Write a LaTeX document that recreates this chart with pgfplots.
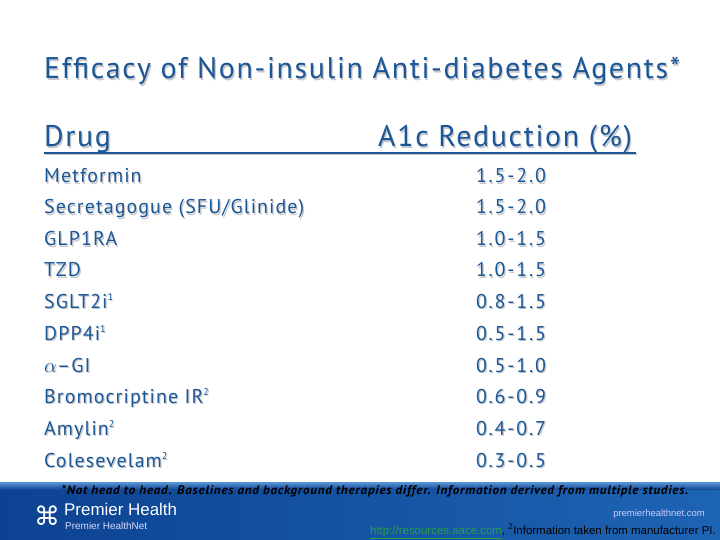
\documentclass[border=0pt]{standalone}
\usepackage{pgfplots}
\pgfplotsset{compat=1.18}
\usepackage{pgfplotstable}
\usepackage{fontspec}
\setmainfont{PT Sans}[LetterSpace=5.5]
\newfontfamily\rangefont{PT Sans}[LetterSpace=9]
\newfontfamily\footfont{PT Sans}[LetterSpace=6]
\newfontfamily\dejavu{DejaVu Sans}
\newfontfamily\smallsans{Liberation Sans}
\definecolor{slideblue}{RGB}{27,87,150}
\definecolor{shadowgray}{RGB}{200,200,205}
\definecolor{bandlight}{RGB}{90,150,215}
\definecolor{banddark}{RGB}{12,66,145}
\definecolor{bandright}{RGB}{30,100,180}
\definecolor{linkgreen}{RGB}{40,160,70}
\newcommand{\sups}[1]{\raisebox{0.75ex}{\fontsize{10}{10}\selectfont #1}}

\pgfplotstableread[col sep=comma]{
row,drug,range
183,Metformin,1.5-2.0
214,Secretagogue (SFU/Glinide),1.5-2.0
246,GLP1RA,1.0-1.5
277,TZD,1.0-1.5
308,SGLT2i\sups{1},0.8-1.5
340,DPP4i\sups{1},0.5-1.5
372,$\alpha$--GI,0.5-1.0
403,Bromocriptine IR\sups{2},0.6-0.9
435,Amylin\sups{2},0.4-0.7
467,Colesevelam\sups{2},0.3-0.5
}\drugs

\newcommand{\shtext}[5]{%
  \node[anchor=#3, inner sep=0pt, text=shadowgray, font=#4] at ([xshift=1.2bp,yshift=-1.2bp]axis cs:#1,#2) {#5};
  \node[anchor=#3, inner sep=0pt, text=slideblue, font=#4] at (axis cs:#1,#2) {#5};}

\begin{document}
\begin{tikzpicture}
\begin{axis}[width=720bp,height=540bp,scale only axis,
  xmin=0,xmax=720,ymin=0,ymax=540,y dir=reverse,
  hide axis,clip=false]
\fill[white] (axis cs:0,0) rectangle (axis cs:720,540);
% bottom band
\shade[top color=bandlight, bottom color=banddark] (axis cs:0,482) rectangle (axis cs:720,490);
\shade[left color=banddark, right color=bandright] (axis cs:0,490) rectangle (axis cs:720,540);

% title and header
\shtext{44}{79}{base west}{\fontsize{30}{34}\selectfont}{Efficacy of Non-insulin Anti-diabetes Agents*}
\shtext{44}{147}{base west}{\fontsize{30}{34}\selectfont}{Drug}
\shtext{378}{147}{base west}{\fontsize{30}{34}\selectfont}{A1c Reduction (\%)}
\draw[shadowgray, line width=2bp] ([xshift=1.2bp,yshift=-1.2bp]axis cs:44,153) -- ([xshift=1.2bp,yshift=-1.2bp]axis cs:636,153);
\draw[slideblue, line width=2bp] (axis cs:44,153) -- (axis cs:636,153);

% rows: shadow then text
\addplot[draw=none, mark=none, nodes near coords, point meta=explicit symbolic,
  every node near coord/.append style={anchor=base west, inner sep=0pt, xshift=1.2bp, yshift=-1.2bp,
    font=\fontsize{20}{24}\selectfont, text=shadowgray}]
  table[x expr=44, y=row, meta=drug]{\drugs};
\addplot[draw=none, mark=none, nodes near coords, point meta=explicit symbolic,
  every node near coord/.append style={anchor=base west, inner sep=0pt,
    font=\fontsize{20}{24}\selectfont, text=slideblue}]
  table[x expr=44, y=row, meta=drug]{\drugs};
\addplot[draw=none, mark=none, nodes near coords, point meta=explicit symbolic,
  every node near coord/.append style={anchor=base, inner sep=0pt, xshift=1.2bp, yshift=-1.2bp,
    font=\rangefont\fontsize{20}{24}\selectfont, text=shadowgray}]
  table[x expr=511, y=row, meta=range]{\drugs};
\addplot[draw=none, mark=none, nodes near coords, point meta=explicit symbolic,
  every node near coord/.append style={anchor=base, inner sep=0pt,
    font=\rangefont\fontsize{20}{24}\selectfont, text=slideblue}]
  table[x expr=511, y=row, meta=range]{\drugs};

% footer
\node[anchor=base, inner sep=0pt, text=black, font=\footfont\fontsize{12.5}{14}\selectfont\bfseries\itshape]
  at (axis cs:375,494) {\scalebox{1.045}[1]{*Not head to head. Baselines and background therapies differ. Information derived from multiple studies.}};
\node[anchor=base west, inner sep=0pt, text=white, font=\dejavu\fontsize{26}{26}\selectfont] at (axis cs:34,525) {⌘};
\node[anchor=base west, inner sep=0pt, text=white, font=\smallsans\fontsize{17}{19}\selectfont] at (axis cs:64,515) {Premier Health};
\node[anchor=base west, inner sep=0pt, text=white!85!blue, font=\smallsans\fontsize{10}{11}\selectfont] at (axis cs:65,529) {Premier HealthNet};
\node[anchor=base east, inner sep=0pt, text=white!80!blue, font=\smallsans\fontsize{9.5}{11}\selectfont] at (axis cs:705,516) {premierhealthnet.com};
\node[anchor=base east, inner sep=0pt, text=black, font=\smallsans\fontsize{11.5}{12}\selectfont] at (axis cs:716,534)
  {{\color{linkgreen}\underline{http://resources.aace.com}}, \textsuperscript{2}Information taken from manufacturer PI.};
\end{axis}
\end{tikzpicture}
\end{document}
